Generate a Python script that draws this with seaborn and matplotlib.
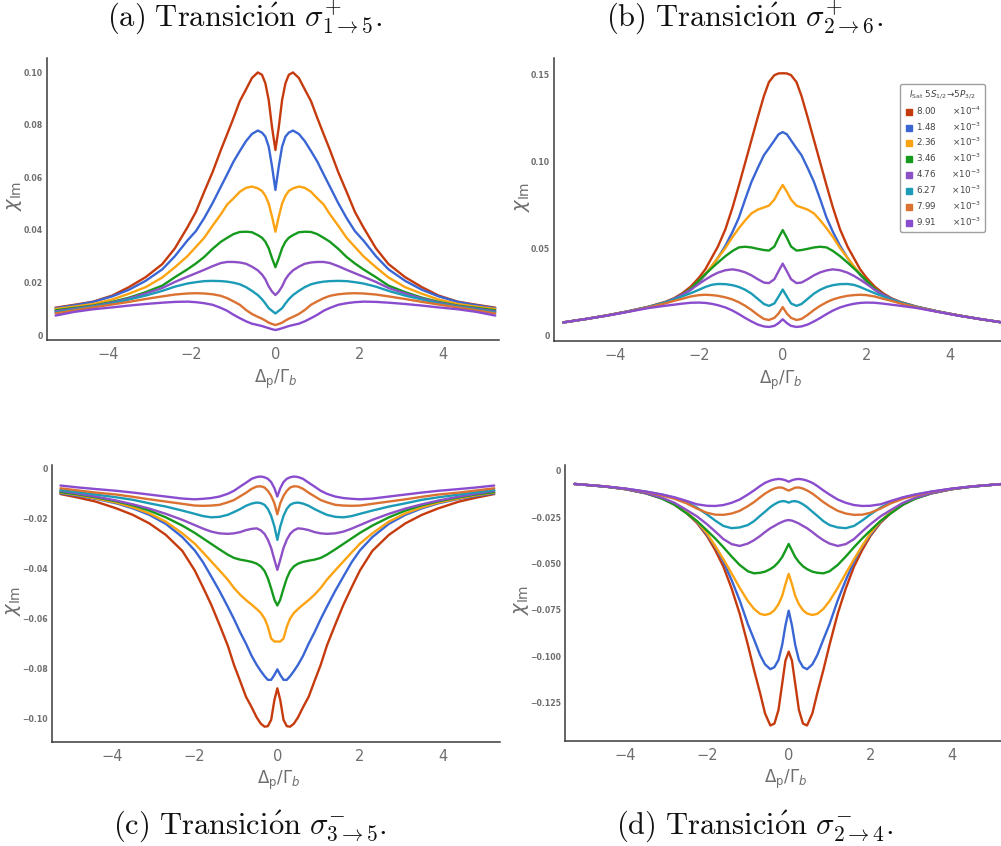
import numpy as np
import pandas as pd
import matplotlib
matplotlib.use("Agg")
import matplotlib.pyplot as plt
from matplotlib.lines import Line2D
import seaborn as sns

# ---------------- data (curves are symmetric in x) -------------
isat_vals = ["8.00", "1.48", "2.36", "3.46", "4.76", "6.27", "7.99", "9.91"]
isat_exps = [-4, -3, -3, -3, -3, -3, -3, -3]
colors = ["#c63b0d", "#3a66d4", "#fca311", "#159a1d", "#8e50c6", "#1b9bb6", "#db7232", "#8a4ccf"]

titles = [r"$\mathrm{(a)\ Transici\acute{o}n}\ \sigma^{+}_{1\rightarrow 5}.$",
          r"$\mathrm{(b)\ Transici\acute{o}n}\ \sigma^{+}_{2\rightarrow 6}.$",
          r"$\mathrm{(c)\ Transici\acute{o}n}\ \sigma^{-}_{3\rightarrow 5}.$",
          r"$\mathrm{(d)\ Transici\acute{o}n}\ \sigma^{-}_{2\rightarrow 4}.$"]

# panel (a)
xa = [0, 0.08, 0.16, 0.24, 0.32, 0.42, 0.56, 0.7, 0.85, 1.0, 1.15, 1.3, 1.5, 1.7, 1.9, 2.1, 2.4, 2.7, 3.1, 3.5, 3.9, 4.35, 4.8, 5.25]
ya = [
    [.0704, .0790, .0894, .0958, .0990, .0999, .0978, .0935, .0890, .0826, .0765, .0705, .0620, .0545, .0468, .0410, .0330, .0270, .0220, .0182, .0150, .0127, .0115, .0104],
    [.0552, .0641, .0717, .0755, .0770, .0778, .0765, .0738, .0700, .0660, .0612, .0565, .0502, .0445, .0395, .0360, .0300, .0250, .0206, .0172, .0147, .0126, .0113, .0102],
    [.0393, .0450, .0500, .0530, .0548, .0558, .0565, .0560, .0545, .0520, .0497, .0460, .0416, .0370, .0335, .0300, .0258, .0219, .0182, .0157, .0135, .0118, .0108, .0099],
    [.0258, .0292, .0330, .0355, .0370, .0380, .0391, .0393, .0392, .0384, .0370, .0355, .0328, .0297, .0272, .0250, .0220, .0188, .0163, .0142, .0126, .0112, .0103, .0094],
    [.0152, .0165, .0185, .0212, .0230, .0246, .0260, .0271, .0276, .0278, .0278, .0274, .0262, .0248, .0235, .0222, .0202, .0179, .0158, .0139, .0123, .0110, .0100, .0090],
    [.0082, .0092, .0102, .0120, .0136, .0152, .0168, .0182, .0193, .0199, .0203, .0205, .0206, .0205, .0201, .0196, .0184, .0168, .0150, .0135, .0120, .0108, .0097, .0086],
    [.0038, .0042, .0047, .0055, .0062, .0069, .0080, .0095, .0115, .0128, .0140, .0149, .0155, .0158, .0159, .0158, .0154, .0147, .0137, .0126, .0116, .0105, .0094, .0082],
    [.0019, .0022, .0026, .0030, .0034, .0038, .0043, .0052, .0064, .0077, .0092, .0103, .0115, .0121, .0125, .0127, .0126, .0123, .0118, .0112, .0105, .0098, .0088, .0074],
]

# panel (b)
xb = [0, 0.1, 0.2, 0.33, 0.45, 0.6, 0.75, 0.9, 1.05, 1.2, 1.37, 1.55, 1.7, 1.85, 2.0, 2.2, 2.4, 2.6, 2.8, 3.2, 3.7, 4.2, 4.7, 5.25]
yb = [
    [.1506, .1505, .1495, .1455, .1375, .1250, .1120, .0990, .0860, .0735, .0610, .0510, .0445, .0380, .0332, .0280, .0242, .0213, .0193, .0165, .0138, .0115, .0094, .0074],
    [.1168, .1155, .1120, .1075, .1035, .0960, .0880, .0780, .0675, .0595, .0515, .0445, .0395, .0348, .0308, .0262, .0228, .0205, .0187, .0163, .0137, .0114, .0094, .0074],
    [.0864, .0825, .0780, .0745, .0735, .0722, .0700, .0660, .0615, .0565, .0502, .0445, .0398, .0352, .0315, .0268, .0232, .0207, .0189, .0164, .0137, .0114, .0094, .0074],
    [.0605, .0560, .0510, .0487, .0490, .0497, .0505, .0509, .0505, .0485, .0455, .0418, .0385, .0352, .0316, .0268, .0235, .0210, .0190, .0163, .0137, .0114, .0094, .0074],
    [.0412, .0368, .0322, .0300, .0303, .0323, .0345, .0362, .0373, .0379, .0374, .0360, .0342, .0320, .0296, .0262, .0234, .0210, .0190, .0163, .0137, .0114, .0094, .0074],
    [.0263, .0222, .0183, .0169, .0180, .0210, .0240, .0262, .0278, .0288, .0294, .0295, .0290, .0278, .0262, .0242, .0224, .0206, .0190, .0163, .0137, .0114, .0094, .0074],
    [.0162, .0125, .0100, .0088, .0094, .0118, .0146, .0170, .0190, .0206, .0218, .0227, .0231, .0233, .0231, .0223, .0210, .0198, .0184, .0161, .0136, .0114, .0094, .0074],
    [.0092, .0070, .0054, .0048, .0051, .0062, .0080, .0100, .0122, .0142, .0160, .0173, .0181, .0186, .0188, .0187, .0182, .0176, .0170, .0157, .0135, .0113, .0094, .0074],
]

# panel (c)
xc = [0, 0.07, 0.15, 0.23, 0.31, 0.4, 0.5, 0.62, 0.76, 0.9, 1.05, 1.2, 1.4, 1.6, 1.8, 2.0, 2.3, 2.7, 3.1, 3.5, 3.9, 4.4, 4.8, 5.25]
yc = [
    [-.0879, -.0925, -.1005, -.1030, -.1032, -.1020, -.0995, -.0955, -.0912, -.0850, -.0785, -.0708, -.0625, -.0545, -.0475, -.0408, -.0330, -.0266, -.0220, -.0186, -.0160, -.0133, -.0118, -.0103],
    [-.0803, -.0825, -.0845, -.0845, -.0830, -.0810, -.0785, -.0750, -.0700, -.0655, -.0602, -.0553, -.0490, -.0432, -.0375, -.0328, -.0275, -.0222, -.0186, -.0160, -.0140, -.0122, -.0111, -.0100],
    [-.0692, -.0692, -.0680, -.0632, -.0600, -.0578, -.0562, -.0545, -.0526, -.0505, -.0478, -.0445, -.0408, -.0372, -.0336, -.0301, -.0260, -.0213, -.0180, -.0156, -.0137, -.0120, -.0108, -.0097],
    [-.0548, -.0525, -.0480, -.0439, -.0410, -.0392, -.0381, -.0374, -.0369, -.0365, -.0358, -.0345, -.0324, -.0302, -.0280, -.0258, -.0229, -.0196, -.0169, -.0148, -.0132, -.0116, -.0105, -.0095],
    [-.0406, -.0366, -.0318, -.0285, -.0262, -.0248, -.0240, -.0242, -.0247, -.0255, -.0260, -.0262, -.0260, -.0253, -.0241, -.0227, -.0206, -.0182, -.0161, -.0144, -.0129, -.0113, -.0102, -.0090],
    [-.0286, -.0233, -.0190, -.0162, -.0146, -.0139, -.0137, -.0141, -.0150, -.0163, -.0175, -.0186, -.0194, -.0196, -.0191, -.0182, -.0169, -.0153, -.0140, -.0126, -.0116, -.0105, -.0096, -.0087],
    [-.0184, -.0140, -.0110, -.0090, -.0077, -.0072, -.0073, -.0082, -.0098, -.0112, -.0127, -.0136, -.0146, -.0149, -.0150, -.0149, -.0142, -.0133, -.0124, -.0114, -.0105, -.0097, -.0089, -.0080],
    [-.0113, -.0080, -.0055, -.0042, -.0036, -.0033, -.0035, -.0042, -.0058, -.0073, -.0090, -.0102, -.0113, -.0119, -.0122, -.0124, -.0121, -.0113, -.0105, -.0097, -.0090, -.0083, -.0077, -.0069],
]

# panel (d)
xd = [0, 0.08, 0.16, 0.25, 0.35, 0.45, 0.58, 0.7, 0.85, 1.0, 1.2, 1.4, 1.6, 1.8, 2.0, 2.25, 2.5, 2.8, 3.1, 3.5, 4.0, 4.5, 5.25]
yd = [
    [-.0976, -.1025, -.1150, -.1291, -.1365, -.1375, -.1310, -.1201, -.1075, -.0940, -.0772, -.0634, -.0517, -.0428, -.0352, -.0280, -.0228, -.0182, -.0148, -.0120, -.0098, -.0084, -.0070],
    [-.0755, -.0835, -.0940, -.1021, -.1060, -.1071, -.1045, -.0995, -.0910, -.0828, -.0700, -.0589, -.0490, -.0408, -.0345, -.0275, -.0224, -.0179, -.0147, -.0119, -.0098, -.0084, -.0070],
    [-.0556, -.0612, -.0675, -.0720, -.0752, -.0770, -.0778, -.0772, -.0745, -.0703, -.0632, -.0553, -.0477, -.0405, -.0338, -.0272, -.0222, -.0178, -.0146, -.0119, -.0098, -.0084, -.0070],
    [-.0394, -.0430, -.0465, -.0492, -.0515, -.0530, -.0544, -.0550, -.0553, -.0542, -.0508, -.0462, -.0412, -.0365, -.0322, -.0270, -.0229, -.0182, -.0150, -.0121, -.0098, -.0084, -.0070],
    [-.0265, -.0268, -.0275, -.0284, -.0297, -.0309, -.0330, -.0351, -.0374, -.0392, -.0405, -.0395, -.0368, -.0327, -.0288, -.0245, -.0211, -.0172, -.0145, -.0120, -.0098, -.0084, -.0070],
    [-.0171, -.0164, -.0163, -.0168, -.0180, -.0195, -.0220, -.0242, -.0271, -.0292, -.0305, -.0309, -.0297, -.0268, -.0235, -.0198, -.0168, -.0145, -.0128, -.0112, -.0096, -.0084, -.0070],
    [-.0106, -.0098, -.0090, -.0089, -.0095, -.0105, -.0122, -.0142, -.0168, -.0190, -.0215, -.0230, -.0237, -.0236, -.0226, -.0203, -.0175, -.0150, -.0132, -.0113, -.0096, -.0083, -.0070],
    [-.0058, -.0050, -.0045, -.0043, -.0046, -.0052, -.0064, -.0081, -.0105, -.0127, -.0154, -.0172, -.0184, -.0189, -.0188, -.0180, -.0162, -.0142, -.0127, -.0111, -.0095, -.0083, -.0070],
]

xticks = [-4, -2, 0, 2, 4]
xtick_labels = ["\u22124", "\u22122", "0", "2", "4"]
yticks_a = [0, 0.02, 0.04, 0.06, 0.08, 0.10]
ylabels_a = ["0", "0.02", "0.04", "0.06", "0.08", "0.10"]
yticks_b = [0, 0.05, 0.10, 0.15]
ylabels_b = ["0", "0.05", "0.10", "0.15"]
yticks_c = [0, -0.02, -0.04, -0.06, -0.08, -0.10]
ylabels_c = ["0", "\u22120.02", "\u22120.04", "\u22120.06", "\u22120.08", "\u22120.10"]
yticks_d = [0, -0.025, -0.05, -0.075, -0.10, -0.125]
ylabels_d = ["0", "\u22120.025", "\u22120.050", "\u22120.075", "\u22120.100", "\u22120.125"]

# ---------------- build long tables --------------------------------------------------
labels = [f"{v}e{e}" for v, e in zip(isat_vals, isat_exps)]


def make_df(xh, ys):
    rows = []
    xh = np.asarray(xh)
    xfull = np.concatenate([-xh[::-1][:-1], xh])
    for lab, yh in zip(labels, ys):
        yh = np.asarray(yh)
        yfull = np.concatenate([yh[::-1][:-1], yh])
        rows.append(pd.DataFrame({"x": xfull, "y": yfull, "curve": lab}))
    return pd.concat(rows, ignore_index=True)


sns.set_theme(style="white")
plt.rcParams["font.family"] = ["DejaVu Sans"]

fig = plt.figure(figsize=(10.01, 8.46), dpi=100)
W, H = 1001.0, 846.0


def px_axes(l, r, t, b):
    return fig.add_axes([l / W, 1 - b / H, (r - l) / W, (b - t) / H])


panels = [
    dict(ax=px_axes(46.7, 499, 58, 340), df=make_df(xa, ya), xlim=(-5.462, 5.34), ylim=(-0.0019, 0.1054),
         yt=yticks_a, yl=ylabels_a, ylx=-0.05),
    dict(ax=px_axes(554.3, 1001, 58.3, 341), df=make_df(xb, yb), xlim=(-5.464, 5.222), ylim=(-0.00328, 0.1592),
         yt=yticks_b, yl=ylabels_b, ylx=-0.05),
    dict(ax=px_axes(51.7, 500, 465, 741.7), df=make_df(xc, yc), xlim=(-5.462, 5.39), ylim=(-0.1092, 0.0013),
         yt=yticks_c, yl=ylabels_c, ylx=-0.064),
    dict(ax=px_axes(565.3, 1001, 465, 741), df=make_df(xd, yd), xlim=(-5.475, 5.203), ylim=(-0.1459, 0.00324),
         yt=yticks_d, yl=ylabels_d, ylx=-0.078),
]

axis_col = "#3a3a3a"
text_col = "#6e6e6e"

for p in panels:
    ax = p["ax"]
    sns.lineplot(data=p["df"], x="x", y="y", hue="curve", hue_order=labels, palette=colors,
                 estimator=None, sort=False, legend=False, linewidth=1.7, ax=ax)
    ax.set_xlim(*p["xlim"])
    ax.set_ylim(*p["ylim"])
    for s in ["top", "right"]:
        ax.spines[s].set_visible(False)
    for s in ["left", "bottom"]:
        ax.spines[s].set_color(axis_col)
        ax.spines[s].set_linewidth(1.1)
    ax.set_xticks(xticks)
    ax.set_xticklabels(xtick_labels)
    ax.set_yticks(p["yt"])
    ax.set_yticklabels(p["yl"])
    ax.tick_params(axis="x", direction="in", length=4, width=0.8, color="#777777",
                   labelsize=10.5, labelcolor=text_col, pad=5)
    ax.tick_params(axis="y", direction="in", length=3, width=0.8, color="#777777",
                   labelsize=5.6, labelcolor=text_col, pad=3)
    for t in ax.get_yticklabels():
        t.set_fontweight("bold")
    ax.set_xlabel(r"$\Delta_{\mathrm{p}}/\Gamma_{b}$", fontsize=12, color=text_col)
    ax.set_ylabel(r"$\chi_{\mathrm{Im}}$", fontsize=14, color=text_col)
    ax.xaxis.set_label_coords(0.506, -0.098)
    ax.yaxis.set_label_coords(p["ylx"], 0.51)
    ax.patch.set_alpha(0)

# legend in panel (b)
axb = panels[1]["ax"]
handles = [Line2D([], [], marker="s", linestyle="none", markersize=4.5,
                  markerfacecolor=c, markeredgecolor=c) for c in colors]
leg_labels = [f"{v}      \u00d710$^{{{e}}}$" for v, e in zip(isat_vals, isat_exps)]
leg = axb.legend(handles, leg_labels, loc="upper right", bbox_to_anchor=(0.964, 0.909),
                 borderaxespad=0.0,
                 fontsize=6.3, title=r"$I_{\mathrm{Sat}}\ 5S_{1/2}\!\rightarrow\!5P_{3/2}$",
                 title_fontsize=6.3, frameon=True, fancybox=True, edgecolor="#888888",
                 handletextpad=0.3, handlelength=1.0, labelspacing=0.40, borderpad=0.45)
for t in leg.get_texts():
    t.set_color("#444444")
leg.get_title().set_color("#444444")

# titles
title_pos = [(245, 17), (745, 17), (250, 826), (755, 826)]
for (tx, ty), tt in zip(title_pos, titles):
    fig.text(tx / W, 1 - ty / H, tt, ha="center", va="center", fontsize=22,
             math_fontfamily="cm", color="#111111")

fig.savefig("out.png", dpi=100)
